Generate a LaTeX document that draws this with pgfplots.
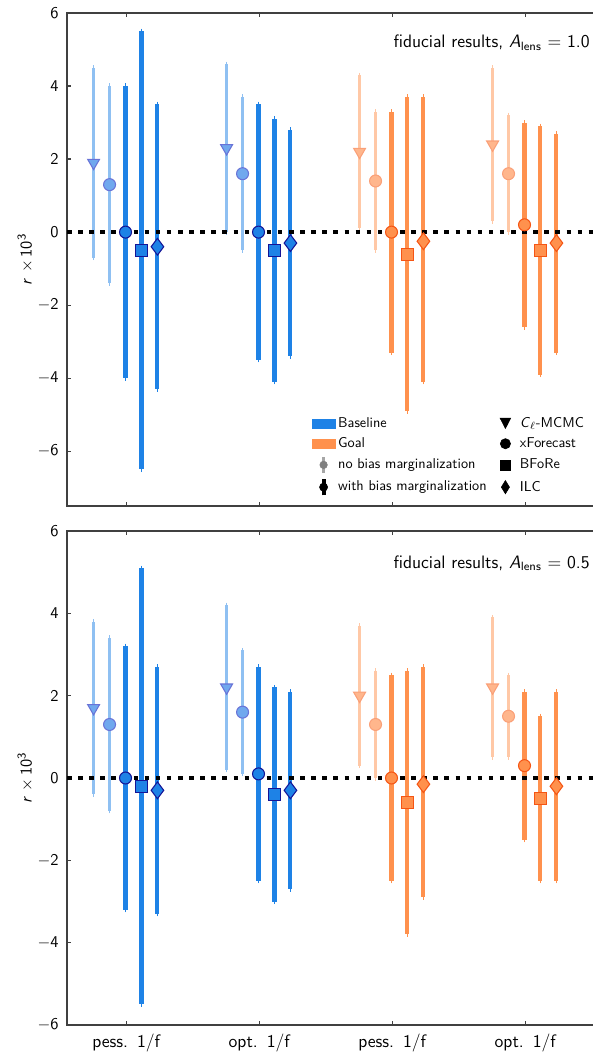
\documentclass[border=0pt]{standalone}
\usepackage{pgfplots}
\pgfplotsset{compat=1.18}
\renewcommand{\familydefault}{\sfdefault}
\definecolor{blueD}{RGB}{30,130,230}
\definecolor{blueL}{RGB}{143,192,242}
\definecolor{blueM}{RGB}{112,168,238}
\definecolor{blueME}{RGB}{105,115,215}
\definecolor{orangeD}{RGB}{255,145,77}
\definecolor{orangeL}{RGB}{255,200,166}
\definecolor{orangeM}{RGB}{255,182,140}
\definecolor{orangeME}{RGB}{250,160,120}
\definecolor{blueE}{RGB}{20,20,150}
\definecolor{orangeE}{RGB}{245,85,20}
\pgfplotsset{
  ebar/.style 2 args={only marks, mark=none, forget plot,
    error bars/.cd, y dir=both, y explicit,
    error bar style={line width=#2, color=#1},
    error mark options={color=#1, line width=1pt, mark size=1.7pt}},
  mk/.style n args={4}{only marks, forget plot, mark=#1, mark size=#2,
    mark options={fill=#3, draw=#4, line width=0.7pt}},
  mkt/.style n args={4}{only marks, forget plot, mark=#1, mark size=#2,
    mark options={rotate=180, fill=#3, draw=#4, line width=0.7pt}},
  common/.style={scale only axis, width=352pt, xmin=-0.45, xmax=3.52, ymax=6,
    xtick={0,1,2,3}, ytick={-6,-4,...,6},
    tick align=inside, xtick pos=both, ytick pos=left, major tick length=2.8pt,
    axis line style={black!75, line width=0.8pt},
    tick style={black!75, line width=0.8pt},
    yticklabel={$\mathsf{\pgfmathprintnumber{\tick}}$},
    yticklabel style={xshift=-2pt, font=\fontsize{11}{13}\selectfont},
    xticklabel style={yshift=-2.5pt, font=\fontsize{12}{14}\selectfont},
    font=\fontsize{10}{12}\selectfont},
  zeroline/.style={forget plot, black, line width=3pt, dash pattern=on 3pt off 4.4pt}
}
\newcommand{\ylab}{\textit{r} $\times\,\mathsf{10^3}$}
\begin{document}
\begin{tikzpicture}
% ================= TOP PANEL: A_lens = 1.0 =================
\begin{axis}[common, name=top, at={(0,0)}, anchor=north west, height=328.67pt, ymin=-7.5,
  xticklabels={},
  legend style={draw=none, fill=none, at={(0.455,0.193)}, anchor=north west,
    font=\fontsize{9.5}{11}\selectfont, legend cell align=left, row sep=1.4pt,
    /tikz/every even column/.append style={column sep=6.8pt}},
  legend columns=4, transpose legend]
% light bars (no bias marginalization)
\addplot[ebar={blueL}{2.2pt}] coordinates {(-0.25,1.9) += (0,2.6) -= (0,2.6) (0.75,2.3) += (0,2.3) -= (0,2.3)};
\addplot[ebar={blueL}{2.2pt}] coordinates {(-0.13,1.3) += (0,2.7) -= (0,2.7) (0.87,1.6) += (0,2.1) -= (0,2.1)};
\addplot[ebar={orangeL}{2.2pt}] coordinates {(1.75,2.2) += (0,2.1) -= (0,2.1) (2.75,2.4) += (0,2.1) -= (0,2.1)};
\addplot[ebar={orangeL}{2.2pt}] coordinates {(1.87,1.4) += (0,1.9) -= (0,1.9) (2.87,1.6) += (0,1.6) -= (0,1.6)};
% dark bars (with bias marginalization)
\addplot[ebar={blueD}{2.7pt}] coordinates {(-0.01,0.0) += (0,4.0) -= (0,4.0) (0.99,0.0) += (0,3.5) -= (0,3.5)};
\addplot[ebar={blueD}{2.7pt}] coordinates {(0.11,-0.5) += (0,6.0) -= (0,6.0) (1.11,-0.5) += (0,3.6) -= (0,3.6)};
\addplot[ebar={blueD}{2.7pt}] coordinates {(0.23,-0.4) += (0,3.9) -= (0,3.9) (1.23,-0.3) += (0,3.1) -= (0,3.1)};
\addplot[ebar={orangeD}{2.7pt}] coordinates {(1.99,0.0) += (0,3.3) -= (0,3.3) (2.99,0.2) += (0,2.8) -= (0,2.8)};
\addplot[ebar={orangeD}{2.7pt}] coordinates {(2.11,-0.6) += (0,4.3) -= (0,4.3) (3.11,-0.5) += (0,3.4) -= (0,3.4)};
\addplot[ebar={orangeD}{2.7pt}] coordinates {(2.23,-0.25) += (0,3.95) -= (0,3.85) (3.23,-0.3) += (0,3.0) -= (0,3.0)};
% zero line
\addplot[zeroline] coordinates {(-0.45,0) (3.52,0)};
% markers
\addplot[mkt={triangle*}{4.6pt}{blueM}{blueME}] coordinates {(-0.25,1.9) (0.75,2.3)};
\addplot[mk={*}{4pt}{blueM}{blueME}] coordinates {(-0.13,1.3) (0.87,1.6)};
\addplot[mkt={triangle*}{4.6pt}{orangeM}{orangeME}] coordinates {(1.75,2.2) (2.75,2.4)};
\addplot[mk={*}{4pt}{orangeM}{orangeME}] coordinates {(1.87,1.4) (2.87,1.6)};
\addplot[mk={*}{4pt}{blueD}{blueE}] coordinates {(-0.01,0.0) (0.99,0.0)};
\addplot[mk={square*}{4pt}{blueD}{blueE}] coordinates {(0.11,-0.5) (1.11,-0.5)};
\addplot[mk={diamond*}{5.6pt}{blueD}{blueE}] coordinates {(0.23,-0.4) (1.23,-0.3)};
\addplot[mk={*}{4pt}{orangeD}{orangeE}] coordinates {(1.99,0.0) (2.99,0.2)};
\addplot[mk={square*}{4pt}{orangeD}{orangeE}] coordinates {(2.11,-0.6) (3.11,-0.5)};
\addplot[mk={diamond*}{5.6pt}{orangeD}{orangeE}] coordinates {(2.23,-0.25) (3.23,-0.3)};
% legend
\addlegendimage{legend image code/.code={\path (0pt,0pt) (15pt,0pt); \fill[blueD] (0pt,-3pt) rectangle (15pt,3pt);}}
\addlegendentry{Baseline}
\addlegendimage{legend image code/.code={\path (0pt,0pt) (15pt,0pt); \fill[orangeD] (0pt,-3pt) rectangle (15pt,3pt);}}
\addlegendentry{Goal}
\addlegendimage{legend image code/.code={\path (0pt,0pt) (15pt,0pt); \draw[black!35, line width=2.2pt] (7.5pt,-5.5pt) -- (7.5pt,5.5pt); \fill[black!50] (7.5pt,0pt) circle (2.5pt);}}
\addlegendentry{no bias marginalization}
\addlegendimage{legend image code/.code={\path (0pt,0pt) (15pt,0pt); \draw[black, line width=2.7pt] (7.5pt,-5.5pt) -- (7.5pt,5.5pt); \fill[black] (7.5pt,0pt) circle (2.7pt);}}
\addlegendentry{with bias marginalization}
\addlegendimage{legend image code/.code={\path (0pt,0pt) (11pt,0pt); \fill[black] (0pt,3.4pt) -- (7pt,3.4pt) -- (3.5pt,-3.4pt) -- cycle;}}
\addlegendentry{\textit{C}$_\ell$-MCMC}
\addlegendimage{legend image code/.code={\path (0pt,0pt) (11pt,0pt); \fill[black] (3.5pt,0pt) circle (3.4pt);}}
\addlegendentry{xForecast}
\addlegendimage{legend image code/.code={\path (0pt,0pt) (11pt,0pt); \fill[black] (0.2pt,-3.3pt) rectangle (6.8pt,3.3pt);}}
\addlegendentry{BFoRe}
\addlegendimage{legend image code/.code={\path (0pt,0pt) (11pt,0pt); \fill[black] (3.5pt,-4.4pt) -- (6.2pt,0pt) -- (3.5pt,4.4pt) -- (0.8pt,0pt) -- cycle;}}
\addlegendentry{ILC}
\node[anchor=east, inner sep=0pt, font=\fontsize{12}{14}\selectfont] at (rel axis cs:0.9905,0.94) {fiducial results, \textit{A}\textsubscript{lens} $=$ 1.0};
\end{axis}
% ================= BOTTOM PANEL: A_lens = 0.5 =================
\begin{axis}[common, name=bot, at={(0,-345.33pt)}, anchor=north west, height=329.33pt, ymin=-6,
  xticklabels={pess.\hspace{0.5em}$\mathsf{1/f}$, opt.\hspace{0.5em}$\mathsf{1/f}$, pess.\hspace{0.5em}$\mathsf{1/f}$, opt.\hspace{0.5em}$\mathsf{1/f}$}]
\addplot[ebar={blueL}{2.2pt}] coordinates {(-0.25,1.7) += (0,2.1) -= (0,2.1) (0.75,2.2) += (0,2.0) -= (0,2.0)};
\addplot[ebar={blueL}{2.2pt}] coordinates {(-0.13,1.3) += (0,2.1) -= (0,2.1) (0.87,1.6) += (0,1.5) -= (0,1.5)};
\addplot[ebar={orangeL}{2.2pt}] coordinates {(1.75,2.0) += (0,1.7) -= (0,1.7) (2.75,2.2) += (0,1.7) -= (0,1.7)};
\addplot[ebar={orangeL}{2.2pt}] coordinates {(1.87,1.3) += (0,1.3) -= (0,1.3) (2.87,1.5) += (0,1.0) -= (0,1.0)};
\addplot[ebar={blueD}{2.7pt}] coordinates {(-0.01,0.0) += (0,3.2) -= (0,3.2) (0.99,0.1) += (0,2.6) -= (0,2.6)};
\addplot[ebar={blueD}{2.7pt}] coordinates {(0.11,-0.2) += (0,5.3) -= (0,5.3) (1.11,-0.4) += (0,2.6) -= (0,2.6)};
\addplot[ebar={blueD}{2.7pt}] coordinates {(0.23,-0.3) += (0,3.0) -= (0,3.0) (1.23,-0.3) += (0,2.4) -= (0,2.4)};
\addplot[ebar={orangeD}{2.7pt}] coordinates {(1.99,0.0) += (0,2.5) -= (0,2.5) (2.99,0.3) += (0,1.8) -= (0,1.8)};
\addplot[ebar={orangeD}{2.7pt}] coordinates {(2.11,-0.6) += (0,3.2) -= (0,3.2) (3.11,-0.5) += (0,2.0) -= (0,2.0)};
\addplot[ebar={orangeD}{2.7pt}] coordinates {(2.23,-0.15) += (0,2.85) -= (0,2.75) (3.23,-0.2) += (0,2.3) -= (0,2.3)};
\addplot[zeroline] coordinates {(-0.45,0) (3.52,0)};
\addplot[mkt={triangle*}{4.6pt}{blueM}{blueME}] coordinates {(-0.25,1.7) (0.75,2.2)};
\addplot[mk={*}{4pt}{blueM}{blueME}] coordinates {(-0.13,1.3) (0.87,1.6)};
\addplot[mkt={triangle*}{4.6pt}{orangeM}{orangeME}] coordinates {(1.75,2.0) (2.75,2.2)};
\addplot[mk={*}{4pt}{orangeM}{orangeME}] coordinates {(1.87,1.3) (2.87,1.5)};
\addplot[mk={*}{4pt}{blueD}{blueE}] coordinates {(-0.01,0.0) (0.99,0.1)};
\addplot[mk={square*}{4pt}{blueD}{blueE}] coordinates {(0.11,-0.2) (1.11,-0.4)};
\addplot[mk={diamond*}{5.6pt}{blueD}{blueE}] coordinates {(0.23,-0.3) (1.23,-0.3)};
\addplot[mk={*}{4pt}{orangeD}{orangeE}] coordinates {(1.99,0.0) (2.99,0.3)};
\addplot[mk={square*}{4pt}{orangeD}{orangeE}] coordinates {(2.11,-0.6) (3.11,-0.5)};
\addplot[mk={diamond*}{5.6pt}{orangeD}{orangeE}] coordinates {(2.23,-0.15) (3.23,-0.2)};
\node[anchor=east, inner sep=0pt, font=\fontsize{12}{14}\selectfont] at (rel axis cs:0.9905,0.935) {fiducial results, \textit{A}\textsubscript{lens} $=$ 0.5};
\end{axis}
\node[rotate=90, anchor=center, inner sep=0pt, font=\fontsize{11}{13}\selectfont] at ([xshift=-27.8pt]top.west) {\ylab};
\node[rotate=90, anchor=center, inner sep=0pt, font=\fontsize{11}{13}\selectfont] at ([xshift=-27.8pt]bot.west) {\ylab};
\pgfresetboundingbox
\path[use as bounding box] (-44.67pt,8.67pt) rectangle (350pt,-692.67pt);
\end{tikzpicture}
\end{document}
